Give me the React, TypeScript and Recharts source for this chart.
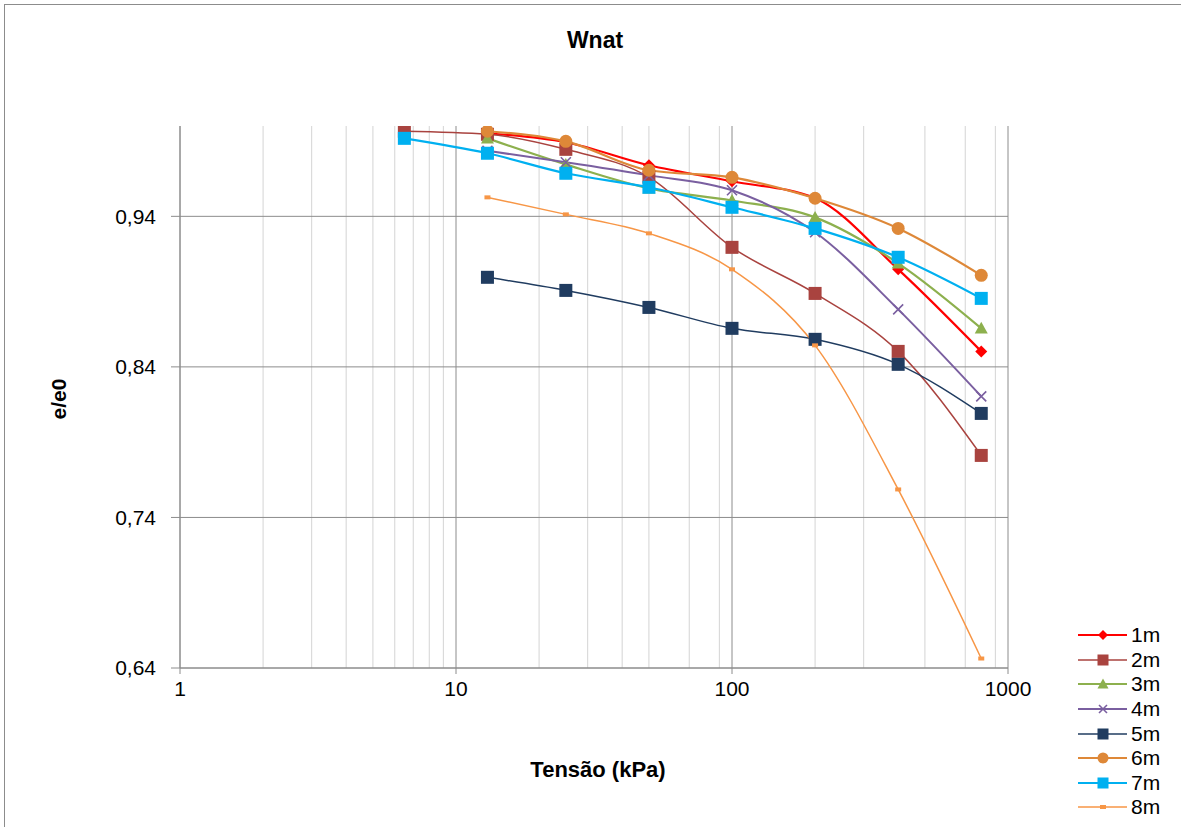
import React from "react"
import { LineChart, Line, XAxis, YAxis, CartesianGrid } from "recharts"

// tensão (kPa) das etapas de carga
const tensao = [6.5, 13, 25, 50, 100, 200, 400, 800]

// e/e0 por profundidade (null = sem leitura)
const s1m = [null, 0.9952, 0.9892, 0.9739, 0.9633, 0.952, 0.9048, 0.8503]
const s2m = [0.9965, 0.9945, 0.9845, 0.966, 0.9194, 0.8888, 0.8503, 0.7812]
const s3m = [null, 0.9918, 0.9745, 0.9586, 0.9505, 0.9393, 0.9088, 0.8656]
const s4m = [null, 0.9835, 0.9759, 0.9672, 0.9573, 0.9294, 0.8782, 0.8204]
const s5m = [null, 0.8995, 0.8908, 0.8795, 0.8656, 0.8583, 0.8417, 0.8091]
const s6m = [null, 0.9965, 0.9898, 0.9706, 0.9659, 0.952, 0.932, 0.9008]
const s7m = [0.9918, 0.9819, 0.9686, 0.9593, 0.946, 0.932, 0.9128, 0.8855]
const s8m = [null, 0.9526, 0.9413, 0.9287, 0.9048, 0.8543, 0.7586, 0.6463]

const xTicks = [1, 10, 100, 1000]
const xMinor = [2, 3, 4, 5, 6, 7, 8, 9, 20, 30, 40, 50, 60, 70, 80, 90, 200, 300, 400, 500, 600, 700, 800, 900]
const yTicks = [0.64, 0.74, 0.84, 0.94]

const series = [
  { key: "s1", name: "1m", values: s1m, color: "#FF0000", width: 2.2, shape: "diamond", size: 12 },
  { key: "s2", name: "2m", values: s2m, color: "#A9433F", width: 1.5, shape: "square", size: 13 },
  { key: "s3", name: "3m", values: s3m, color: "#8DB04E", width: 2.2, shape: "triangle", size: 13 },
  { key: "s4", name: "4m", values: s4m, color: "#7A5FA0", width: 2, shape: "x", size: 10 },
  { key: "s5", name: "5m", values: s5m, color: "#203C60", width: 1.5, shape: "square", size: 13 },
  { key: "s6", name: "6m", values: s6m, color: "#DE8838", width: 2.2, shape: "circle", size: 13 },
  { key: "s7", name: "7m", values: s7m, color: "#00B0F0", width: 2.2, shape: "square", size: 13 },
  { key: "s8", name: "8m", values: s8m, color: "#F79646", width: 1.5, shape: "dash", size: 6 },
]

const data = tensao.map((x, i) => {
  const row: any = { x }
  series.forEach((s) => (row[s.key] = s.values[i]))
  return row
})

const font = "'Liberation Sans', Arial, sans-serif"

function Marker({ shape, cx, cy, color, size }: any) {
  const h = size / 2
  if (shape === "diamond")
    return <polygon points={`${cx},${cy - h} ${cx + h},${cy} ${cx},${cy + h} ${cx - h},${cy}`} fill={color} />
  if (shape === "square") return <rect x={cx - h} y={cy - h} width={size} height={size} fill={color} />
  if (shape === "triangle")
    return <polygon points={`${cx},${cy - h} ${cx + h},${cy + h * 0.8} ${cx - h},${cy + h * 0.8}`} fill={color} />
  if (shape === "x")
    return (
      <path
        d={`M${cx - h},${cy - h}L${cx + h},${cy + h}M${cx - h},${cy + h}L${cx + h},${cy - h}`}
        stroke={color}
        strokeWidth={1.6}
      />
    )
  if (shape === "circle") return <circle cx={cx} cy={cy} r={h} fill={color} />
  return <rect x={cx - 3} y={cy - 2} width={6} height={4} fill={color} />
}

function LegendBox() {
  return (
    <div style={{ position: "absolute", left: 1077, top: 623, width: 104, fontFamily: font }}>
      {series.map((s) => (
        <div key={s.key} style={{ display: "flex", alignItems: "center", height: 24.6 }}>
          <svg width={52} height={20}>
            <line x1={1} y1={10} x2={50} y2={10} stroke={s.color} strokeWidth={s.width} />
            <Marker shape={s.shape} cx={26} cy={10} color={s.color} size={s.size - 2} />
          </svg>
          <span style={{ fontSize: 21, color: "#000", marginLeft: 2 }}>{s.name}</span>
        </div>
      ))}
    </div>
  )
}

export default function App() {
  return (
    <div
      style={{
        position: "absolute",
        left: 0,
        top: 0,
        width: 1181,
        height: 827,
        overflow: "hidden",
        background: "#fff",
        fontFamily: font,
      }}
    >
      <div
        style={{
          position: "absolute",
          left: 4,
          top: 4,
          width: 1300,
          height: 1000,
          border: "1px solid #8C8C8C",
        }}
      />
      <div
        style={{
          position: "absolute",
          left: 0,
          width: 1190,
          top: 27,
          textAlign: "center",
          fontWeight: "bold",
          fontSize: 23,
        }}
      >
        Wnat
      </div>
      <div
        style={{
          position: "absolute",
          left: 0,
          width: 1196,
          top: 757,
          textAlign: "center",
          fontWeight: "bold",
          fontSize: 22,
        }}
      >
        Tensão (kPa)
      </div>
      <div
        style={{
          position: "absolute",
          left: 59,
          top: 399,
          transform: "translate(-50%, -50%) rotate(-90deg)",
          fontWeight: "bold",
          fontSize: 21,
          whiteSpace: "nowrap",
        }}
      >
        e/e0
      </div>
      <LineChart width={1181} height={827} data={data} margin={{ top: 126, right: 173, bottom: 119, left: 100 }}>
        <CartesianGrid horizontal={false} verticalValues={xMinor} stroke="#D4D4D4" />
        <CartesianGrid horizontalValues={yTicks} verticalValues={xTicks} stroke="#8C8C8C" />
        <XAxis
          dataKey="x"
          type="number"
          scale="log"
          domain={[1, 1000]}
          ticks={xTicks}
          allowDataOverflow
          height={40}
          stroke="#8C8C8C"
          tickSize={6}
          tickMargin={7}
          tick={{ fill: "#000", fontSize: 21, fontFamily: font }}
        />
        <YAxis
          type="number"
          domain={[0.64, 1.0]}
          ticks={yTicks}
          allowDataOverflow
          width={80}
          stroke="#8C8C8C"
          tickSize={9}
          tickMargin={15}
          tickFormatter={(v: number) => v.toFixed(2).replace(".", ",")}
          tick={{ fill: "#000", fontSize: 21, fontFamily: font }}
        />
        {series.map((s) => (
          <Line
            key={s.key}
            dataKey={s.key}
            name={s.name}
            type="monotone"
            stroke={s.color}
            strokeWidth={s.width}
            isAnimationActive={false}
            dot={(p: any) =>
              p.cy == null || p.cx == null ? (
                <g key={`${s.key}-${p.index}`} />
              ) : (
                <Marker key={`${s.key}-${p.index}`} shape={s.shape} cx={p.cx} cy={p.cy} color={s.color} size={s.size} />
              )
            }
          />
        ))}
      </LineChart>
      <LegendBox />
    </div>
  )
}
